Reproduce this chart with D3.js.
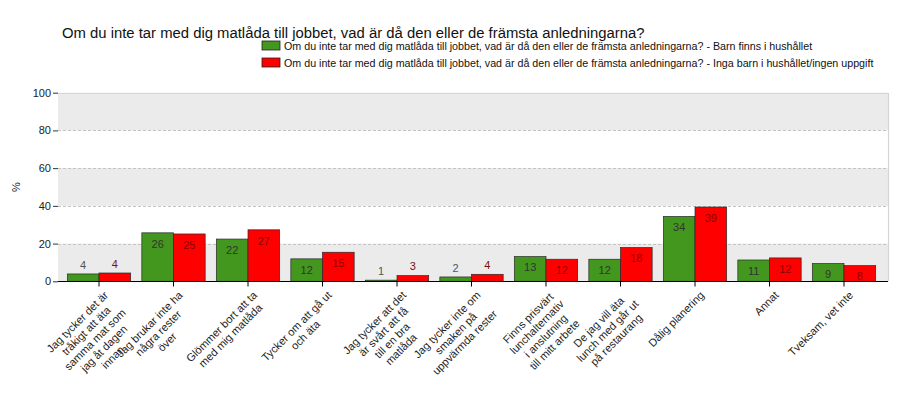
<!DOCTYPE html>
<html>
<head>
<meta charset="utf-8">
<script src="https://cdn.jsdelivr.net/npm/d3@7"></script>
<style>
  html, body { margin: 0; padding: 0; background: #fff; }
  svg { display: block; font-family: "Liberation Sans", Arial, sans-serif; }
</style>
</head>
<body>
<svg id="chart" width="900" height="400"></svg>
<script>
const title = "Om du inte tar med dig matlåda till jobbet, vad är då den eller de främsta anledningarna?";
const seriesNames = [
  "Om du inte tar med dig matlåda till jobbet, vad är då den eller de främsta anledningarna? - Barn finns i hushållet",
  "Om du inte tar med dig matlåda till jobbet, vad är då den eller de främsta anledningarna? - Inga barn i hushållet/ingen uppgift"
];
const categories = [
  ["Jag tycker det är", "tråkigt att äta", "samma mat som", "jag åt dagen", "innan"],
  ["Jag brukar inte ha", "några rester", "över"],
  ["Glömmer bort att ta", "med mig matlåda"],
  ["Tycker om att gå ut", "och äta"],
  ["Jag tycker att det", "är svårt att få", "till en bra", "matlåda"],
  ["Jag tycker inte om", "smaken på", "uppvärmda rester"],
  ["Finns prisvärt", "lunchalternativ", "i anslutning", "till mitt arbete"],
  ["De jag vill äta", "lunch med går ut", "på restaurang"],
  ["Dålig planering"],
  ["Annat"],
  ["Tveksam, vet inte"]
];
const barnFinns = [3.9, 25.7, 22.4, 11.9, 0.6, 2.3, 13.1, 11.7, 34.4, 11.3, 9.4];
const ingaBarn  = [4.4, 25.1, 27.3, 15.4, 3.0, 3.7, 11.7, 17.9, 39.4, 12.4, 8.3];
const yTicks = [0, 20, 40, 60, 80, 100];
const yLabel = "%";
const colors = ["#43961e", "#ff0000"];
const labelColors = ["#333333", "#8b0000"];

const svg = d3.select("#chart");
const panel = { left: 58, right: 888, top: 92.7, bottom: 281.3 };

const y = d3.scaleLinear().domain([0, 100]).range([panel.bottom, panel.top]);
const ids = categories.map((c, i) => String(i));
const x0 = d3.scaleBand().domain(ids).range([61.75, 881.25]).paddingInner(0.15).paddingOuter(0.075);
const x1 = d3.scaleBand().domain([0, 1]).range([0, x0.bandwidth()]);

// panel background bands
const bands = [[0, 20], [40, 60], [80, 100]];
svg.append("g").selectAll("rect").data(bands).join("rect")
  .attr("x", panel.left).attr("width", panel.right - panel.left)
  .attr("y", d => y(d[1])).attr("height", d => y(d[0]) - y(d[1]))
  .attr("fill", "#ebebeb");

// grid lines
svg.append("g").selectAll("line").data([20, 40, 60, 80]).join("line")
  .attr("x1", panel.left).attr("x2", panel.right)
  .attr("y1", d => Math.round(y(d)) + 0.5).attr("y2", d => Math.round(y(d)) + 0.5)
  .attr("stroke", "#c4c4c4").attr("stroke-dasharray", "3,2");

// panel top/right border
svg.append("path")
  .attr("d", `M${panel.left},${Math.round(panel.top) + 0.5}H${panel.right + 0.5}V${panel.bottom}`)
  .attr("fill", "none").attr("stroke", "#d4d4d4").attr("stroke-width", 1.2);

// bars
const data = [barnFinns, ingaBarn];
const groups = svg.append("g").selectAll("g").data(ids).join("g")
  .attr("transform", d => `translate(${x0(d)},0)`);
groups.selectAll("rect").data((d, i) => data.map((s, k) => ({ k, v: s[i] }))).join("rect")
  .attr("x", d => x1(d.k)).attr("width", x1.bandwidth())
  .attr("y", d => y(d.v)).attr("height", d => y(0) - y(d.v))
  .attr("fill", d => colors[d.k]).attr("stroke", "#2a2a2a").attr("stroke-width", 0.7);
groups.selectAll("text").data((d, i) => data.map((s, k) => ({ k, v: s[i] }))).join("text")
  .attr("x", d => x1(d.k) + x1.bandwidth() / 2)
  .attr("y", d => d.v >= 6 ? y(d.v) + 11 : y(d.v) - 9)
  .attr("dy", "0.35em")
  .attr("text-anchor", "middle").attr("font-size", 11)
  .attr("fill", d => d.v >= 6 ? labelColors[d.k] : (d.k === 0 ? "#555" : "#7a1010"))
  .text(d => Math.round(d.v));

// y axis
const yAxis = d3.axisLeft(y).tickValues(yTicks).tickSize(5).tickPadding(2);
const gy = svg.append("g").attr("transform", `translate(${panel.left},0)`).call(yAxis);
gy.select(".domain").remove();
gy.selectAll("text").attr("font-size", 11).attr("fill", "#222").attr("font-family", "Liberation Sans, Arial, sans-serif");
gy.selectAll("line").attr("stroke", "#333");

svg.append("text").attr("transform", "translate(20,187) rotate(-90)")
  .attr("text-anchor", "middle").attr("font-size", 11).attr("fill", "#222").text(yLabel);

// x axis
const xAxis = d3.axisBottom(x0).tickSize(5).tickSizeOuter(0).tickFormat("");
const gx = svg.append("g").attr("transform", `translate(0,${Math.round(panel.bottom) + 0.5})`).call(xAxis);
gx.select(".domain").attr("d", `M${panel.left},0H${panel.right}`).attr("stroke", "#000").attr("stroke-width", 1.2);
gx.selectAll(".tick line").attr("stroke", "#000");

// x labels (rotated, multiline, centered lines)
const lblG = svg.append("g").selectAll("g").data(categories).join("g")
  .attr("transform", (d, i) => `translate(${x0(String(i)) + x0.bandwidth() / 2 + 7},293) rotate(-45)`);
lblG.each(function (lines) {
  const g = d3.select(this);
  const texts = g.selectAll("text").data(lines).join("text")
    .attr("font-size", 11).attr("fill", "#222")
    .attr("y", (d, j) => 4 + j * 12.5)
    .text(d => d);
  let maxW = 0;
  texts.each(function () { maxW = Math.max(maxW, this.getComputedTextLength()); });
  texts.attr("x", -maxW / 2).attr("text-anchor", "middle");
});

// title
svg.append("text").attr("x", 62).attr("y", 38).attr("font-size", 14.85).attr("fill", "#111").text(title);

// legend
const leg = svg.append("g").selectAll("g").data(seriesNames).join("g")
  .attr("transform", (d, i) => `translate(262,${41 + i * 17})`);
leg.append("rect").attr("width", 18).attr("height", 9)
  .attr("fill", (d, i) => colors[i]).attr("stroke", "#222").attr("stroke-width", 0.8);
leg.append("text").attr("x", 22).attr("y", 8.5).attr("font-size", 10.7).attr("fill", "#111").text(d => d);
</script>
</body>
</html>
